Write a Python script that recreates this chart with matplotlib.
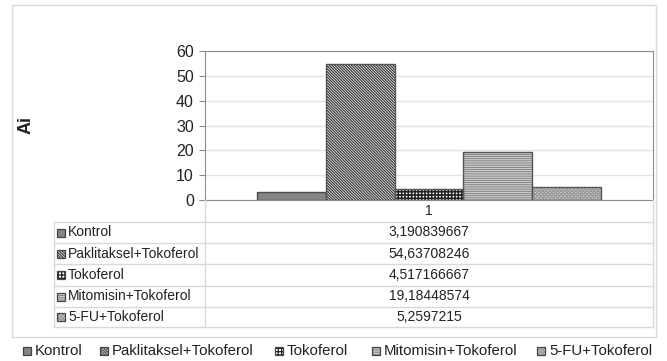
import matplotlib
matplotlib.use('Agg')
import matplotlib.pyplot as plt
from matplotlib.patches import Rectangle
from matplotlib.lines import Line2D

plt.rcParams['font.family'] = ['Liberation Sans', 'DejaVu Sans']
plt.rcParams['hatch.linewidth'] = 0.9

# veriler
gruplar = ['Kontrol', 'Paklitaksel+Tokoferol', 'Tokoferol', 'Mitomisin+Tokoferol', '5-FU+Tokoferol']
ai = [3.190839667, 54.63708246, 4.517166667, 19.18448574, 5.2597215]
kategori = '1'
yticks = [0, 10, 20, 30, 40, 50, 60]

# desenler: (dolgu, tarama, tarama rengi, kenar)
desen = [
    ('#858585', None, '#858585', '#4d4d4d'),
    ('#ffffff', '\\' * 12, '#3a3a3a', '#555555'),
    ('#ffffff', '+' * 5, '#222222', '#555555'),
    ('#f4f4f4', '-' * 9, '#8a8a8a', '#555555'),
    ('#d2d2d2', 'x' * 9, '#9a9a9a', '#555555'),
]

W, H = 667, 361
fig = plt.figure(figsize=(W / 100, H / 100), dpi=100)


def fx(x):
    return x / W


def fy(y):
    return 1 - y / H


# dis cerceve
fig.add_artist(Rectangle((fx(12), fy(337)), fx(656) - fx(12), fy(5) - fy(337),
                         transform=fig.transFigure, fill=False, ec='#d9d9d9', lw=1))

ax = fig.add_axes([fx(205), fy(200), fx(653) - fx(205), fy(51) - fy(200)])
n = len(ai)
grup_w = 0.77
bw = grup_w / n
for i, (v, (fc, hatch, hc, ec)) in enumerate(zip(ai, desen)):
    x = -grup_w / 2 + (i + 0.5) * bw
    lw_h = 1.15 if i == 2 else 0.9
    with plt.rc_context({'hatch.linewidth': lw_h}):
        ax.bar(x, v, width=bw, color=fc, edgecolor=hc, hatch=hatch, linewidth=0, zorder=2)
    ax.bar(x, v, width=bw, fill=False, edgecolor=ec, linewidth=1, zorder=3)

ax.set_xlim(-0.5, 0.5)
ax.set_ylim(0, 60)
ax.set_yticks(yticks)
ax.set_xticks([])
ax.yaxis.grid(True, color='#e3e3e3', lw=1, zorder=0)
ax.set_axisbelow(True)
for s in ax.spines.values():
    s.set_color('#8c8c8c')
ax.tick_params(axis='y', length=4, color='#8c8c8c', pad=4, labelsize=11.5, labelcolor='#222222')

fig.text(fx(26), fy(125), 'Ai', rotation=90, ha='center', va='center',
         fontsize=13, fontweight='bold', color='#222222')

# tablo
cizgi = '#d9d9d9'
satir_y = [222, 243, 264, 286, 307, 327]
for y in satir_y:
    fig.add_artist(Line2D([fx(54), fx(653)], [fy(y), fy(y)], transform=fig.transFigure, color=cizgi, lw=1))
fig.add_artist(Line2D([fx(54), fx(54)], [fy(222), fy(327)], transform=fig.transFigure, color=cizgi, lw=1))
fig.add_artist(Line2D([fx(205), fx(205)], [fy(200), fy(327)], transform=fig.transFigure, color=cizgi, lw=1))
fig.add_artist(Line2D([fx(653), fx(653)], [fy(200), fy(327)], transform=fig.transFigure, color=cizgi, lw=1))

fig.text(fx(429), fy(211), kategori, ha='center', va='center', fontsize=10, color='#222222')


def isaret(x, y, k):
    fc, hatch, hc, ec = desen[k]
    fig.add_artist(Rectangle((fx(x), fy(y + 4)), fx(8), 8 / H, transform=fig.transFigure,
                             facecolor=fc, edgecolor=hc, hatch=hatch, lw=0))
    fig.add_artist(Rectangle((fx(x), fy(y + 4)), fx(8), 8 / H, transform=fig.transFigure,
                             fill=False, edgecolor='#444444', lw=0.9))


for i, (g, v) in enumerate(zip(gruplar, ai)):
    yc = (satir_y[i] + satir_y[i + 1]) / 2
    isaret(57, yc, i)
    fig.text(fx(68), fy(yc), g, ha='left', va='center', fontsize=10, color='#222222')
    fig.text(fx(429), fy(yc), str(v).replace('.', ','), ha='center', va='center',
             fontsize=10, color='#222222')

# lejant
lejant_x = [23, 100, 275, 372, 537]
for i, (g, x) in enumerate(zip(gruplar, lejant_x)):
    isaret(x, 351, i)
    fig.text(fx(x + 12), fy(351), g, ha='left', va='center', fontsize=10.8, color='#222222')

fig.savefig('out.png', dpi=100)
